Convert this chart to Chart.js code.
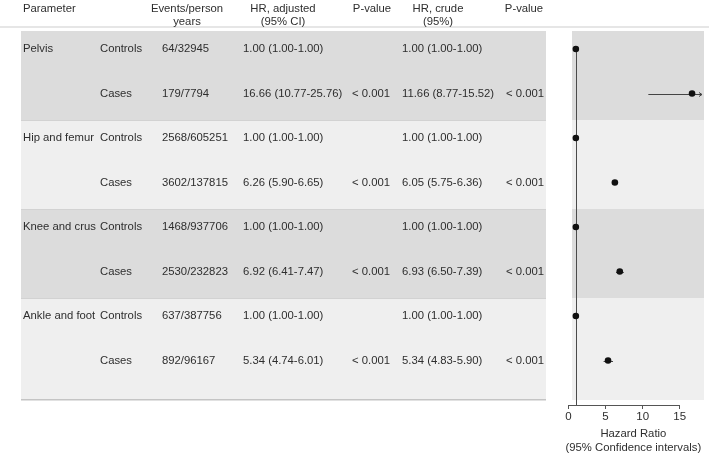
<!DOCTYPE html>
<html><head><meta charset="utf-8">
<script src="https://cdn.jsdelivr.net/npm/chart.js@4/dist/chart.umd.min.js"></script>
<style>
html,body{margin:0;padding:0;background:#fff;}
#wrap{position:relative;width:709px;height:456px;overflow:hidden;font-family:"Liberation Sans",Arial,Helvetica,sans-serif;font-size:11.3px;color:#2e2e2e;}
canvas{position:absolute;left:0;top:0;}
.t{position:absolute;white-space:nowrap;line-height:13px;transform:translateY(-50%);}
.c{transform:translate(-50%,-50%);text-align:center;}
</style></head><body>
<div id="wrap"><canvas id="c" width="709" height="456" style="width:709px;height:456px"></canvas></div>
<script>
// ---------- data ----------
const groups = ["Pelvis", "Hip and femur", "Knee and crus", "Ankle and foot"];
const subgroups = ["Controls", "Cases"];
const events = ["64/32945", "179/7794", "2568/605251", "3602/137815", "1468/937706", "2530/232823", "637/387756", "892/96167"];
const hrAdj   = [1.00, 16.66, 1.00, 6.26, 1.00, 6.92, 1.00, 5.34];
const hrAdjLo = [1.00, 10.77, 1.00, 5.90, 1.00, 6.41, 1.00, 4.74];
const hrAdjHi = [1.00, 25.76, 1.00, 6.65, 1.00, 7.47, 1.00, 6.01];
const pAdj    = ["", "< 0.001", "", "< 0.001", "", "< 0.001", "", "< 0.001"];
const hrCrude   = [1.00, 11.66, 1.00, 6.05, 1.00, 6.93, 1.00, 5.34];
const hrCrudeLo = [1.00, 8.77, 1.00, 5.75, 1.00, 6.50, 1.00, 4.83];
const hrCrudeHi = [1.00, 15.52, 1.00, 6.36, 1.00, 7.39, 1.00, 5.90];
const pCrude    = ["", "< 0.001", "", "< 0.001", "", "< 0.001", "", "< 0.001"];
const xTicks = [0, 5, 10, 15];
const headers = [["Parameter"], [""], ["Events/person", "years"], ["HR, adjusted", "(95% CI)"], ["P-value"], ["HR, crude", "(95%)"], ["P-value"]];
const axisTitle = ["Hazard Ratio", "(95% Confidence intervals)"];

// ---------- layout / style ----------
const FONT = '"Liberation Sans", Arial, Helvetica, sans-serif';
const TXT = '#2e2e2e';
const DARK = '#dcdcdc', LIGHT = '#efefef';
const TABLE_L = 21, TABLE_R = 546, PANEL_L = 572, PANEL_R = 704;
const bandEdges = [-0.405, 1.6, 3.6, 5.6, 7.89];   // in row units
const colX = [23, 100, 162, 243, 352, 402, 506];
const headX = [23, null, 187, 283, 372, 438, 524];

const fmt = (v, lo, hi) => v.toFixed(2) + ' (' + lo.toFixed(2) + '-' + hi.toFixed(2) + ')';

const bgPlugin = {
  id: 'bg',
  beforeDraw(chart) {
    const c = chart.ctx, ys = chart.scales.y;
    c.save();
    c.fillStyle = '#e6e6e6';
    c.fillRect(0, 26, 709, 2);
    for (let b = 0; b < groups.length; b++) {
      const y0 = Math.round(ys.getPixelForValue(bandEdges[b]));
      const y1 = Math.round(ys.getPixelForValue(bandEdges[b + 1]));
      c.fillStyle = b % 2 === 0 ? DARK : LIGHT;
      c.fillRect(TABLE_L, y0, TABLE_R - TABLE_L, y1 - y0);
      c.fillRect(PANEL_L, y0, PANEL_R - PANEL_L, y1 - y0);
      if (b > 0) {
        c.fillStyle = '#d2d2d2';
        c.fillRect(TABLE_L, y0, TABLE_R - TABLE_L, 1);
      }
    }
    const yb = Math.round(ys.getPixelForValue(bandEdges[bandEdges.length - 1]));
    c.fillStyle = '#c4c4c4';
    c.fillRect(TABLE_L, yb - 1, TABLE_R - TABLE_L, 1.5);
    c.restore();
  },
  beforeDatasetsDraw(chart) {
    const c = chart.ctx, xs = chart.scales.x, ys = chart.scales.y, a = chart.chartArea;
    c.save();
    const x1 = Math.round(xs.getPixelForValue(1)) + 0.5;
    c.strokeStyle = '#4a4a4a'; c.lineWidth = 1;
    c.beginPath(); c.moveTo(x1, ys.getPixelForValue(0)); c.lineTo(x1, a.bottom); c.stroke();
    c.strokeStyle = '#555';
    c.beginPath();
    c.moveTo(xs.getPixelForValue(xTicks[0]), a.bottom + 0.5);
    c.lineTo(xs.getPixelForValue(xTicks[xTicks.length - 1]), a.bottom + 0.5);
    c.stroke();
    const clip = PANEL_R - 2;
    c.strokeStyle = '#444';
    hrAdj.forEach((v, i) => {
      const y = Math.round(ys.getPixelForValue(i)) + 0.5;
      const xl = xs.getPixelForValue(hrAdjLo[i]);
      let xh = xs.getPixelForValue(hrAdjHi[i]);
      const over = xh > clip;
      if (over) xh = clip;
      if (xh - xl > 0.5) {
        c.beginPath(); c.moveTo(xl, y); c.lineTo(xh, y); c.stroke();
      }
      if (over) {
        c.beginPath(); c.moveTo(xh - 3, y - 2); c.lineTo(xh, y); c.lineTo(xh - 3, y + 2); c.stroke();
      }
    });
    c.restore();
  }
};

const chart = new Chart(document.getElementById('c').getContext('2d'), {
  type: 'scatter',
  data: { datasets: [{
    data: hrAdj.map((v, i) => ({ x: v, y: i })),
    pointRadius: 3.3, pointHoverRadius: 3.3,
    pointBackgroundColor: '#111', pointBorderColor: '#111', pointBorderWidth: 0
  }]},
  options: {
    responsive: false, animation: false, events: [],
    layout: { padding: { top: 31, left: 561, right: 1, bottom: 0 } },
    plugins: { legend: { display: false }, tooltip: { enabled: false } },
    scales: {
      x: {
        type: 'linear', min: -1, max: 18.5,
        afterBuildTicks: s => { s.ticks = xTicks.map(v => ({ value: v })); },
        afterFit: s => { s.height = 51; },
        grid: { display: true, drawOnChartArea: false, drawTicks: true, tickLength: 4, color: '#555' },
        border: { display: false },
        ticks: { color: TXT, font: { family: FONT, size: 11.5 }, padding: 1, maxRotation: 0, autoSkip: false },
        title: { display: true, text: axisTitle, color: TXT, font: { family: FONT, size: 11.3, lineHeight: '14px' }, padding: { top: 0, bottom: 1 } }
      },
      y: { type: 'linear', display: false, reverse: true, min: -0.405, max: 8.0 }
    }
  },
  plugins: [bgPlugin]
});

// ---------- table text (HTML) ----------
const wrap = document.getElementById('wrap');
function addText(txt, x, y, center) {
  if (!txt) return;
  const d = document.createElement('div');
  d.className = 't' + (center ? ' c' : '');
  d.textContent = txt;
  d.style.left = x + 'px';
  d.style.top = y + 'px';
  wrap.appendChild(d);
}
headers.forEach((h, k) => {
  h.forEach((line, j) => {
    addText(line, headX[k], 7.5 + j * 13, k !== 0);
  });
});
const ys = chart.scales.y;
events.forEach((ev, i) => {
  const y = ys.getPixelForValue(i) - 1;
  if (i % 2 === 0) addText(groups[i / 2], colX[0], y, false);
  addText(subgroups[i % 2], colX[1], y, false);
  addText(ev, colX[2], y, false);
  addText(fmt(hrAdj[i], hrAdjLo[i], hrAdjHi[i]), colX[3], y, false);
  addText(pAdj[i], colX[4], y, false);
  addText(fmt(hrCrude[i], hrCrudeLo[i], hrCrudeHi[i]), colX[5], y, false);
  addText(pCrude[i], colX[6], y, false);
});
</script>
</body></html>
